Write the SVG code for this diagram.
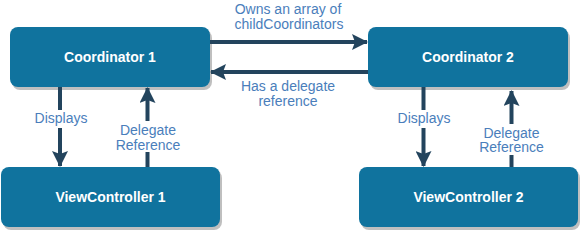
<svg xmlns="http://www.w3.org/2000/svg" width="581" height="231" viewBox="0 0 581 231">
<style>
.node{fill:#10739E;}
.shadow{fill:#000;opacity:0.25;}
.nt{fill:#fff;font-family:"Liberation Sans",Arial,sans-serif;font-weight:bold;font-size:14px;text-anchor:middle;}
.lbl{fill:#4A7EBB;font-family:"Liberation Sans",Arial,sans-serif;font-size:14px;text-anchor:middle;}
.edge{stroke:#23445D;stroke-width:4;fill:none;}
.bg{fill:#fff;}
</style>
<defs>
<marker id="arr" viewBox="0 0 16 16" refX="15" refY="8" markerWidth="16" markerHeight="16" markerUnits="userSpaceOnUse" orient="auto">
<path d="M0,0 L16,8 L0,16 L3,8 Z" fill="#23445D"/>
</marker>
</defs>
<g id="coordinator1">
<rect class="shadow" x="12" y="30" width="200" height="60" rx="8"/>
<rect class="node" x="10" y="27" width="200" height="60" rx="8"/>
<text class="nt" x="110" y="62">Coordinator 1</text>
</g>
<g id="coordinator2">
<rect class="shadow" x="370" y="30" width="200" height="60" rx="8"/>
<rect class="node" x="368" y="27" width="200" height="60" rx="8"/>
<text class="nt" x="468" y="62">Coordinator 2</text>
</g>
<g id="viewcontroller1">
<rect class="shadow" x="3" y="170" width="219" height="60" rx="8"/>
<rect class="node" x="1" y="167" width="219" height="60" rx="8"/>
<text class="nt" x="110.5" y="202">ViewController 1</text>
</g>
<g id="viewcontroller2">
<rect class="shadow" x="361" y="170" width="219" height="60" rx="8"/>
<rect class="node" x="359" y="167" width="219" height="60" rx="8"/>
<text class="nt" x="468.5" y="202">ViewController 2</text>
</g>
<g id="connectors">
<line class="edge" x1="210" y1="42" x2="367" y2="42" marker-end="url(#arr)"/>
<line class="edge" x1="368" y1="72" x2="211" y2="72" marker-end="url(#arr)"/>
<line class="edge" x1="60" y1="87" x2="60" y2="166" marker-end="url(#arr)"/>
<line class="edge" x1="147.5" y1="167" x2="147.5" y2="88" marker-end="url(#arr)"/>
<line class="edge" x1="423.5" y1="87" x2="423.5" y2="166" marker-end="url(#arr)"/>
<line class="edge" x1="511.5" y1="167" x2="511.5" y2="91" marker-end="url(#arr)"/>
<rect class="bg" x="34" y="110" width="53" height="18"/>
<rect class="bg" x="116" y="121" width="64" height="31"/>
<rect class="bg" x="397" y="110" width="53" height="18"/>
<rect class="bg" x="480" y="124" width="64" height="31"/>
<text class="lbl" x="288" y="13.5">Owns an array of</text>
<text class="lbl" x="289" y="28.5">childCoordinators</text>
<text class="lbl" x="288" y="90.5">Has a delegate</text>
<text class="lbl" x="288" y="105.5">reference</text>
<text class="lbl" x="61" y="122.5">Displays</text>
<text class="lbl" x="148" y="134.5">Delegate</text>
<text class="lbl" x="148" y="149.5">Reference</text>
<text class="lbl" x="424" y="122.5">Displays</text>
<text class="lbl" x="511.5" y="137.5">Delegate</text>
<text class="lbl" x="511.5" y="152">Reference</text>
</g>
</svg>
